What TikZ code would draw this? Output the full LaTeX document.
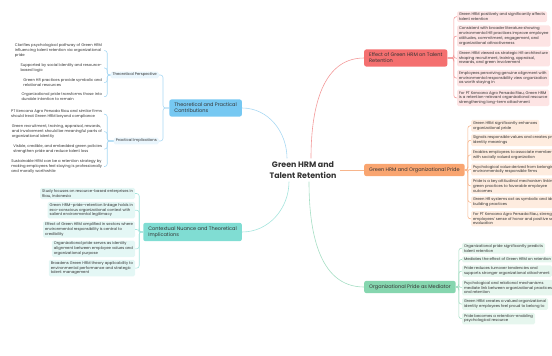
\documentclass[tikz,border=0pt]{standalone}
\usepackage{fontspec}
\setmainfont{Poppins}
\usetikzlibrary{positioning}
\definecolor{ink}{HTML}{333333}
\definecolor{redbox}{HTML}{F46F6F}
\definecolor{redleaf}{HTML}{FDE4E4}
\definecolor{redline}{HTML}{F39A9A}
\definecolor{orangebox}{HTML}{F9A570}
\definecolor{orangeleaf}{HTML}{FEECDF}
\definecolor{orangeline}{HTML}{F7B58C}
\definecolor{greenbox}{HTML}{86D6AF}
\definecolor{greenleaf}{HTML}{E6F6EE}
\definecolor{greenline}{HTML}{A6DEC4}
\definecolor{bluebox}{HTML}{76C8F2}
\definecolor{blueleaf}{HTML}{EAF6FD}
\definecolor{blueline}{HTML}{A8D8F3}
\definecolor{tealbox}{HTML}{80DDD3}
\definecolor{tealleaf}{HTML}{E4F7F5}
\definecolor{tealline}{HTML}{A5E4DD}
\newcommand*{\rootfont}{\fontsize{7.9}{10.8}\selectfont\bfseries}
\newcommand*{\topicfont}{\fontsize{5}{6.2}\selectfont}
\newcommand*{\leaffont}{\fontsize{3.8}{4.75}\selectfont}
\tikzstyle{block} = [rectangle, align=left, text=ink]
\tikzstyle{topic} = [block, rounded corners=2pt, font=\topicfont, inner xsep=5pt, inner ysep=3.5pt]
\tikzstyle{leaf} = [block, rounded corners=1.5pt, font=\leaffont, inner xsep=2pt, inner ysep=1.5pt]
\tikzstyle{subtopic} = [leaf, fill=blueleaf]
\tikzstyle{start} = [inner sep=0pt, minimum size=0pt]
\tikzstyle{wire} = [line width=0.6pt, rounded corners=2.5pt]

\begin{document}
\begin{tikzpicture}[x=1pt, y=-1pt]
    \useasboundingbox (0,0) rectangle (552,356);

    % Root and topics.
    \node (root) at (303,170) [block, align=center, font=\rootfont, inner sep=3pt] {Green HRM and\\Talent Retention};
    \node (redmain) at (364,58) [topic, anchor=west, fill=redbox] {Effect of Green HRM on Talent\\Retention};
    \node (orangemain) at (364,170) [topic, anchor=west, fill=orangebox] {Green HRM and Organizational Pride};
    \node (greenmain) at (364,287) [topic, anchor=west, fill=greenbox] {Organizational Pride as Mediator};
    \node (bluemain) at (242,108) [topic, anchor=east, fill=bluebox] {Theoretical and Practical\\Contributions};
    \node (tealmain) at (242,232) [topic, anchor=east, fill=tealbox] {Contextual Nuance and Theoretical\\Implications};

    \draw [wire, redline] ([xshift=8pt]root.north) to [out=90, in=180] (redmain.west);
    \draw [wire, orangeline] (root.east) -- (orangemain.west);
    \draw [wire, greenline] ([xshift=6pt]root.south) to [out=-90, in=180] (greenmain.west);
    \draw [wire, blueline] ([xshift=-16pt]root.north) to [out=90, in=0] (bluemain.east);
    \draw [wire, tealline] ([xshift=-14pt]root.south) to [out=-90, in=0] (tealmain.east);

    % Sub-topics.
    \node (theo) at (159,75) [subtopic, anchor=east] {Theoretical Perspective};
    \node (prac) at (159,141) [subtopic, anchor=east] {Practical Implications};
    \foreach \s in {theo, prac} {
        \draw [wire, blueline] (bluemain.west) -- ([xshift=4pt]bluemain.west -| \s.east) |- (\s.east);
    }

    % Starting points of the leaf stacks.
    \node (red0) at (457,8) [start] {};
    \node (orange0) at (471,117) [start] {};
    \node (green0) at (462,240) [start] {};
    \node (theo0) at (104,39) [start] {};
    \node (prac0) at (104,105) [start] {};
    \node (teal0) at (135,185) [start] {};

    % Leaves, right side.
    \foreach \t [count=\i, evaluate=\i as \j using int(\i-1)] in {
        {Green HRM positively and significantly affects\\talent retention},
        {Consistent with broader literature showing\\environmental HR practices improve employee\\attitudes, commitment, engagement, and\\organizational attractiveness},
        {Green HRM viewed as strategic HR architecture\\shaping recruitment, training, appraisal,\\rewards, and green involvement},
        {Employees perceiving genuine alignment with\\environmental responsibility view organization\\as worth staying in},
        {For PT Kencana Agro Persada Riau, Green HRM\\is a retention-relevant organizational resource\\strengthening long-term attachment}} {
        \node (red\i) [leaf, fill=redleaf, below right=3pt and 0pt of red\j.south west] {\t};
        \draw [wire, redline] (redmain.east) -- ([xshift=-3pt]redmain.east -| red\i.west) |- (red\i.west);
    }

    \foreach \t [count=\i, evaluate=\i as \j using int(\i-1)] in {
        {Green HRM significantly enhances\\organizational pride},
        {Signals responsible values and creates pride and\\identity meanings},
        {Enables employees to associate membership\\with socially valued organization},
        {Psychological value derived from belonging to\\environmentally responsible firms},
        {Pride is a key attitudinal mechanism linking\\green practices to favorable employee\\outcomes},
        {Green HR systems act as symbolic and identity-\\building practices},
        {For PT Kencana Agro Persada Riau, strengthens\\employees' sense of honor and positive self-\\evaluation}} {
        \node (orange\i) [leaf, fill=orangeleaf, below right=2.5pt and 0pt of orange\j.south west] {\t};
        \draw [wire, orangeline] (orangemain.east) -- ([xshift=-3pt]orangemain.east -| orange\i.west) |- (orange\i.west);
    }

    \foreach \t [count=\i, evaluate=\i as \j using int(\i-1)] in {
        {Organizational pride significantly predicts\\talent retention},
        {Mediates the effect of Green HRM on retention},
        {Pride reduces turnover tendencies and\\supports stronger organizational attachment},
        {Psychological and relational mechanisms\\mediate link between organizational practices\\and retention},
        {Green HRM creates a valued organizational\\identity employees feel proud to belong to},
        {Pride becomes a retention-enabling\\psychological resource}} {
        \node (green\i) [leaf, fill=greenleaf, below right=2.5pt and 0pt of green\j.south west] {\t};
        \draw [wire, greenline] (greenmain.east) -- ([xshift=-3pt]greenmain.east -| green\i.west) |- (green\i.west);
    }

    % Leaves, left side.
    \foreach \t [count=\i, evaluate=\i as \j using int(\i-1)] in {
        {Clarifies psychological pathway of Green HRM\\influencing talent retention via organizational\\pride},
        {Supported by social identity and resource-\\based logic},
        {Green HR practices provide symbolic and\\relational resources},
        {Organizational pride transforms those into\\durable intention to remain}} {
        \node (theo\i) [leaf, below left=3pt and 0pt of theo\j.south east] {\t};
        \draw [wire, blueline] (theo.west) -- ([xshift=3pt]theo.west -| theo\i.east) |- (theo\i.east);
    }

    \foreach \t [count=\i, evaluate=\i as \j using int(\i-1)] in {
        {PT Kencana Agro Persada Riau and similar firms\\should treat Green HRM beyond compliance},
        {Green recruitment, training, appraisal, rewards,\\and involvement should be meaningful parts of\\organizational identity},
        {Visible, credible, and embedded green policies\\strengthen pride and reduce talent loss},
        {Sustainable HRM can be a retention strategy by\\making employees feel staying is professionally\\and morally worthwhile}} {
        \node (prac\i) [leaf, below left=3pt and 0pt of prac\j.south east] {\t};
        \draw [wire, blueline] (prac.west) -- ([xshift=3pt]prac.west -| prac\i.east) |- (prac\i.east);
    }

    \foreach \t [count=\i, evaluate=\i as \j using int(\i-1)] in {
        {Study focuses on resource-based enterprises in\\Riau, Indonesia},
        {Green HRM–pride–retention linkage holds in\\eco-conscious organizational context with\\salient environmental legitimacy},
        {Effect of Green HRM amplified in sectors where\\environmental responsibility is central to\\credibility},
        {Organizational pride serves as identity\\alignment between employee values and\\organizational purpose},
        {Broadens Green HRM theory applicability to\\environmental performance and strategic\\talent management}} {
        \node (teal\i) [leaf, fill=tealleaf, below left=2.5pt and 0pt of teal\j.south east] {\t};
        \draw [wire, tealline] (tealmain.west) -- ([xshift=4pt]tealmain.west -| teal\i.east) |- (teal\i.east);
    }
\end{tikzpicture}
\end{document}
